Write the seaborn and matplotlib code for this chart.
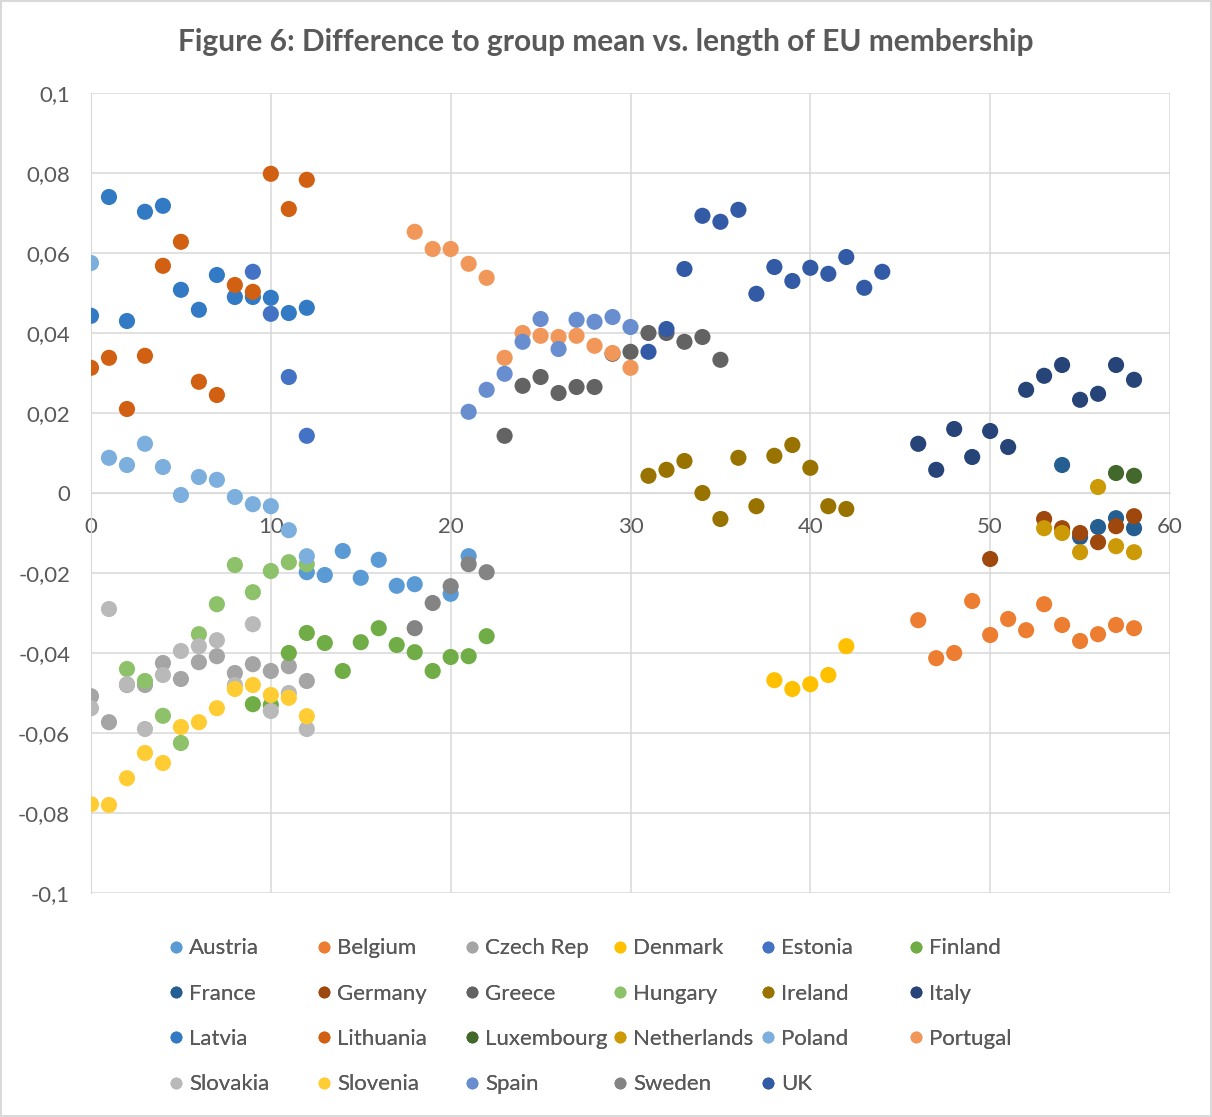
import pandas as pd
import matplotlib
matplotlib.use('Agg')
import matplotlib.pyplot as plt
from matplotlib.lines import Line2D
import seaborn as sns

# ---- data ----
countries = ['Austria', 'Belgium', 'Czech Rep', 'Denmark', 'Estonia', 'Finland',
             'France', 'Germany', 'Greece', 'Hungary', 'Ireland', 'Italy',
             'Latvia', 'Lithuania', 'Luxembourg', 'Netherlands', 'Poland', 'Portugal',
             'Slovakia', 'Slovenia', 'Spain', 'Sweden', 'UK']
colors = ['#5B9BD5', '#ED7D31', '#A5A5A5', '#FFC000', '#4472C4', '#70AD47',
          '#255E91', '#9E480E', '#636363', '#8DC16A', '#997300', '#264478',
          '#337AC4', '#D26012', '#43682B', '#CC9A06', '#7CAFDD', '#F1975A',
          '#B9B9B9', '#FFCD33', '#698ED0', '#848484', '#335AA5']

austria_x = [12, 13, 14, 15, 16, 17, 18, 20, 21]
austria_y = [-0.0198, -0.0205, -0.0145, -0.0212, -0.0167, -0.0232, -0.0228, -0.0252, -0.0158]
belgium_x = [46, 47, 48, 49, 50, 51, 52, 53, 54, 55, 56, 57, 58]
belgium_y = [-0.0318, -0.0413, -0.040, -0.027, -0.0355, -0.0315, -0.0343, -0.0278, -0.033,
             -0.037, -0.0353, -0.033, -0.0338]
czech_x = [0, 1, 2, 3, 4, 5, 6, 7, 8, 9, 10, 11, 12]
czech_y = [-0.0508, -0.0573, -0.048, -0.048, -0.0425, -0.0465, -0.0423, -0.0408, -0.045,
           -0.0428, -0.0445, -0.0433, -0.047]
denmark_x = [38, 39, 40, 41, 42]
denmark_y = [-0.0468, -0.049, -0.0478, -0.0455, -0.0383]
estonia_x = [9, 10, 11, 12]
estonia_y = [0.0553, 0.0448, 0.029, 0.0143]
finland_x = [9, 10, 11, 12, 13, 14, 15, 16, 17, 18, 19, 20, 21, 22]
finland_y = [-0.0528, -0.053, -0.040, -0.035, -0.0375, -0.0445, -0.0373, -0.0338, -0.038,
             -0.0398, -0.0445, -0.041, -0.0408, -0.0358]
france_x = [54, 55, 56, 57, 58]
france_y = [0.007, -0.011, -0.0085, -0.0063, -0.0088]
germany_x = [50, 53, 54, 55, 56, 57, 58]
germany_y = [-0.0165, -0.0065, -0.0088, -0.010, -0.0123, -0.0083, -0.0058]
greece_x = [23, 24, 25, 26, 27, 28, 29, 30, 31, 32, 33, 34, 35]
greece_y = [0.0143, 0.0268, 0.029, 0.025, 0.0265, 0.0265, 0.0348, 0.0353, 0.040, 0.040,
            0.0378, 0.039, 0.0333]
hungary_x = [2, 3, 4, 5, 6, 7, 8, 9, 10, 11, 12]
hungary_y = [-0.044, -0.047, -0.0557, -0.0625, -0.0353, -0.0278, -0.018, -0.0248, -0.0195,
             -0.0173, -0.0178]
ireland_x = [31, 32, 33, 34, 35, 36, 37, 38, 39, 40, 41, 42]
ireland_y = [0.0043, 0.0058, 0.008, 0.0, -0.0065, 0.0088, -0.0033, 0.0093, 0.012, 0.0063,
             -0.0033, -0.004]
italy_x = [46, 47, 48, 49, 50, 51, 52, 53, 54, 55, 56, 57, 58]
italy_y = [0.0123, 0.0058, 0.016, 0.009, 0.0155, 0.0115, 0.0258, 0.0293, 0.032, 0.0233,
           0.0248, 0.032, 0.0283]
latvia_x = [0, 1, 2, 3, 4, 5, 6, 7, 8, 9, 10, 11, 12]
latvia_y = [0.0443, 0.074, 0.043, 0.0703, 0.0718, 0.0508, 0.0458, 0.0545, 0.049, 0.049,
            0.0488, 0.045, 0.0463]
lithuania_x = [0, 1, 2, 3, 4, 5, 6, 7, 8, 9, 10, 11, 12]
lithuania_y = [0.0313, 0.0338, 0.021, 0.0343, 0.0568, 0.0628, 0.0278, 0.0245, 0.052, 0.0503,
               0.0798, 0.071, 0.0783]
luxembourg_x = [57, 58]
luxembourg_y = [0.005, 0.0043]
netherlands_x = [53, 54, 55, 56, 57, 58]
netherlands_y = [-0.0088, -0.010, -0.0148, 0.0015, -0.0133, -0.0148]
poland_x = [0, 1, 2, 3, 4, 5, 6, 7, 8, 9, 10, 11, 12]
poland_y = [0.0575, 0.0088, 0.007, 0.0123, 0.0065, -0.0005, 0.004, 0.0033, -0.001, -0.0028,
            -0.0033, -0.0093, -0.0158]
portugal_x = [18, 19, 20, 21, 22, 23, 24, 25, 26, 27, 28, 29, 30]
portugal_y = [0.0653, 0.061, 0.061, 0.0573, 0.0538, 0.0338, 0.040, 0.0393, 0.039, 0.0393,
              0.0368, 0.035, 0.0313]
slovakia_x = [0, 1, 2, 3, 4, 5, 6, 7, 8, 9, 10, 11, 12]
slovakia_y = [-0.0538, -0.029, -0.0478, -0.059, -0.0455, -0.0395, -0.0383, -0.0368, -0.048,
              -0.0328, -0.0545, -0.050, -0.059]
slovenia_x = [0, 1, 2, 3, 4, 5, 6, 7, 8, 9, 10, 11, 12]
slovenia_y = [-0.0778, -0.078, -0.0713, -0.065, -0.0675, -0.0585, -0.0573, -0.0538, -0.049,
              -0.048, -0.0505, -0.0512, -0.0558]
spain_x = [21, 22, 23, 24, 25, 26, 27, 28, 29, 30]
spain_y = [0.0203, 0.0258, 0.0298, 0.0378, 0.0435, 0.036, 0.0433, 0.0428, 0.044, 0.0415]
sweden_x = [18, 19, 20, 21, 22]
sweden_y = [-0.0338, -0.0275, -0.0233, -0.0178, -0.0198]
uk_x = [31, 32, 33, 34, 35, 36, 37, 38, 39, 40, 41, 42, 43, 44]
uk_y = [0.0353, 0.041, 0.056, 0.0693, 0.0678, 0.0708, 0.0498, 0.0565, 0.053, 0.0563, 0.0548,
        0.059, 0.0513, 0.0553]

series_x = [austria_x, belgium_x, czech_x, denmark_x, estonia_x, finland_x, france_x,
            germany_x, greece_x, hungary_x, ireland_x, italy_x, latvia_x, lithuania_x,
            luxembourg_x, netherlands_x, poland_x, portugal_x, slovakia_x, slovenia_x,
            spain_x, sweden_x, uk_x]
series_y = [austria_y, belgium_y, czech_y, denmark_y, estonia_y, finland_y, france_y,
            germany_y, greece_y, hungary_y, ireland_y, italy_y, latvia_y, lithuania_y,
            luxembourg_y, netherlands_y, poland_y, portugal_y, slovakia_y, slovenia_y,
            spain_y, sweden_y, uk_y]

y_ticks = [-0.1, -0.08, -0.06, -0.04, -0.02, 0, 0.02, 0.04, 0.06, 0.08, 0.1]
y_labels = ['-0,1', '-0,08', '-0,06', '-0,04', '-0,02', '0', '0,02', '0,04', '0,06', '0,08', '0,1']
x_ticks = [0, 10, 20, 30, 40, 50, 60]

frames = [pd.DataFrame({'years': xs, 'diff': ys, 'country': c})
          for c, xs, ys in zip(countries, series_x, series_y)]
df = pd.concat(frames, ignore_index=True)
palette = dict(zip(countries, colors))

sns.set_style('white')
plt.rcParams['font.family'] = ['Lato', 'DejaVu Sans']
text_col = '#595959'
grid_col = '#D9D9D9'

fig = plt.figure(figsize=(12.12, 11.17), dpi=100)
fig.patch.set_edgecolor(grid_col)
fig.patch.set_linewidth(1.5)
ax = fig.add_axes([91 / 1212, 1 - 893 / 1117, 1079 / 1212, 800 / 1117])

sns.scatterplot(data=df, x='years', y='diff', hue='country', palette=palette,
                s=135, linewidth=0, alpha=1, legend=False, ax=ax, zorder=3)

ax.set_xlim(0, 60)
ax.set_ylim(-0.1, 0.1)
ax.set_xticks(x_ticks)
ax.set_yticks(y_ticks)
ax.set_yticklabels(y_labels)
ax.grid(True, color=grid_col, linewidth=1.1, zorder=0)
ax.set_axisbelow(True)
for side in ['top', 'right']:
    ax.spines[side].set_visible(False)
ax.spines['left'].set_color(grid_col)
ax.spines['bottom'].set_color(grid_col)
ax.spines['bottom'].set_position(('data', 0))
ax.tick_params(axis='both', length=0, labelsize=16, colors=text_col)
ax.tick_params(axis='x', pad=17)
ax.tick_params(axis='y', pad=15)
ax.set_xlabel('')
ax.set_ylabel('')

fig.text(0.5, 1 - 42 / 1117, 'Figure 6: Difference to group mean vs. length of EU membership',
         ha='center', va='center', fontsize=21.5, fontweight='bold', color=text_col)

# legend: Excel fills rows, so build one legend per column
handles = [Line2D([], [], marker='o', linestyle='none', markersize=8.5,
                  markerfacecolor=c, markeredgewidth=0) for c in colors]
col_x = [170, 318, 466, 614, 762, 910]
for ci, cx in enumerate(col_x):
    idx = list(range(ci, len(countries), 6))
    leg = fig.legend([handles[i] for i in idx], [countries[i] for i in idx],
                     loc='upper left', bbox_to_anchor=(cx / 1212, 1 - 938.5 / 1117),
                     frameon=False, fontsize=16, labelcolor=text_col,
                     handlelength=0.55, handletextpad=0.3, borderpad=0,
                     borderaxespad=0, labelspacing=1.14)
    fig.add_artist(leg)

fig.savefig('out.png', dpi=100)
